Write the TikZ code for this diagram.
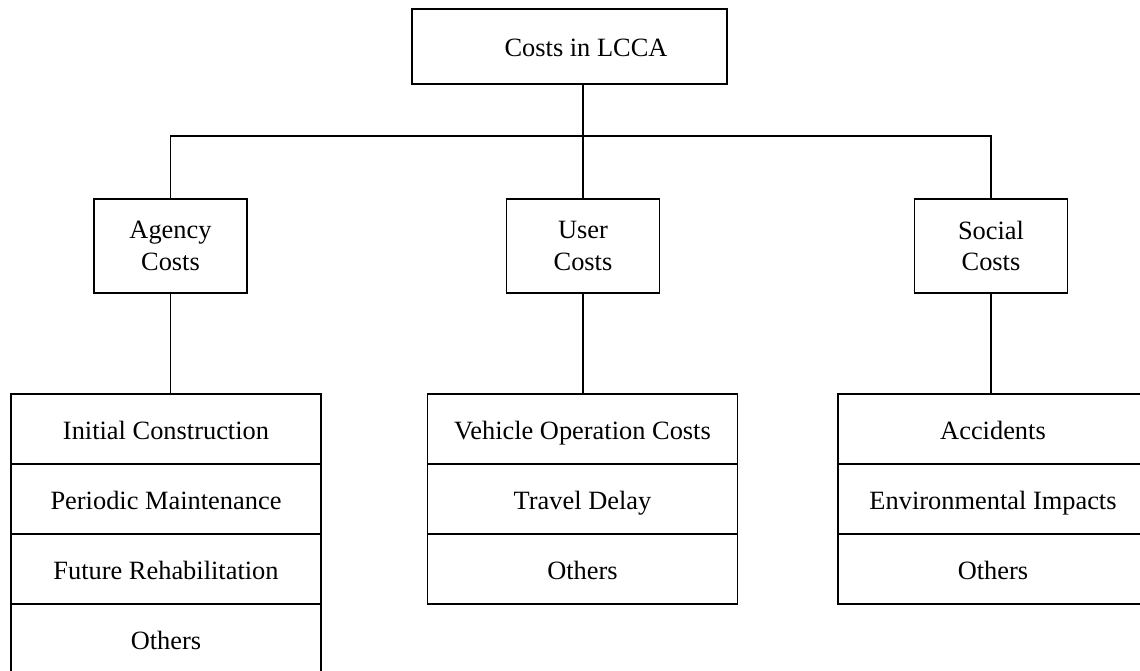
\documentclass[tikz,border=0pt]{standalone}
\usepackage{fontspec}
\setmainfont{Liberation Serif}
\usepackage{tikz}
\usetikzlibrary{positioning,calc}
\tikzset{
  costfont/.style={font=\fontsize{26.4}{31.7}\selectfont},
  costbox/.style={draw,line width=1.6pt,inner sep=0pt,costfont,align=center},
  groupbox/.style={costbox,minimum width=153pt,minimum height=94pt},
  rowbox/.style={draw,line width=1.4pt,inner sep=0pt,costfont,text height=20pt,text depth=0pt,
                 minimum width=310pt,minimum height=70pt},
  link/.style={line width=1.4pt}
}

\begin{document}
\begin{tikzpicture}[x=1pt,y=-1pt]
\useasboundingbox (0,0) rectangle (1140,670);
% root
\node[costbox,minimum width=315pt,minimum height=75pt] (root) at (569.5,46.5) {};
\node[costfont,text height=20pt,text depth=0pt,inner sep=0pt] (rootlabel) at (586,46.5) {Costs in LCCA};
% cost groups
\node[groupbox] (agency) at (170.5,246) {Agency\\Costs};
\node[groupbox] (user) at (583,246) {User\\Costs};
\node[groupbox] (social) at (991,246) {Social\\Costs};
% item lists
\foreach \t [count=\i] in {Initial Construction, Periodic Maintenance,
                           Future Rehabilitation, Others}
  \node[rowbox] (ag\i) at (166,{394+35+70*(\i-1)}) {\t};
\foreach \t [count=\i] in {Vehicle Operation Costs, Travel Delay, Others}
  \node[rowbox] (us\i) at (582.5,{394+35+70*(\i-1)}) {\t};
\foreach \t [count=\i] in {Accidents, Environmental Impacts, Others}
  \node[rowbox] (so\i) at (993,{394+35+70*(\i-1)}) {\t};
% connectors
\coordinate (bus) at (583,136);
\draw[link] (root.south -| bus) -- (bus);
\draw[link] (agency.north) |- (bus) -| (social.north);
\draw[link] (user.north) -- (user.north |- bus);
\draw[link] (agency.south) -- (agency.south |- ag1.north);
\draw[link] (user.south) -- (user.south |- us1.north);
\draw[link] (social.south) -- (social.south |- so1.north);
\end{tikzpicture}
\end{document}
